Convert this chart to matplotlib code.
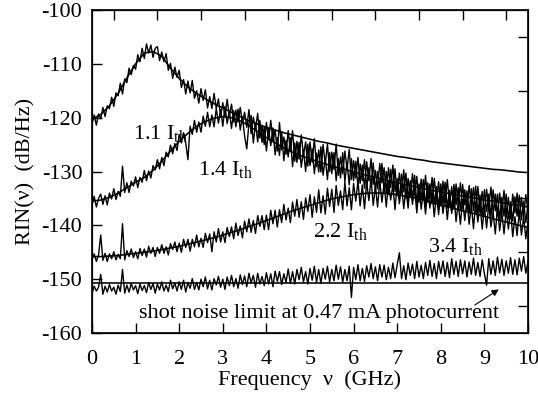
import numpy as np
import matplotlib
matplotlib.use('Agg')
import matplotlib.pyplot as plt

plt.rcParams['font.family'] = ['Liberation Serif', 'DejaVu Serif']
plt.rcParams['mathtext.fontset'] = 'custom'
plt.rcParams['mathtext.rm'] = 'Liberation Serif'
plt.rcParams['mathtext.it'] = 'Liberation Serif:italic'
plt.rcParams['axes.unicode_minus'] = False

# ---------------- data ----------------
freq = np.round(np.arange(201) * 0.05, 2)          # GHz, measured sample grid
freq_theory = np.round(np.arange(51) * 0.2, 1)     # GHz, theory sample grid

meas_11 = [
    -121.2, -119.5, -121.4, -119.3, -120.2, -118.1, -119.8, -117.8, -118.3, -116.2,
    -117.9, -115.4, -115.9, -113.6, -115.6, -112.8, -113.5, -110.8, -112.0, -110.3,
    -111.0,
    -108.3, -109.6, -107.1, -109.0, -106.3, -108.0, -106.5, -108.8, -107.1, -106.8,
    -109.4, -107.8, -109.6, -108.1, -111.2, -109.9, -112.7, -110.6, -112.5, -111.2,
    -114.4, -112.9, -115.6, -113.2, -115.4, -113.1, -116.4, -115.0, -117.3, -114.6,
    -116.8, -114.8, -118.2, -116.1, -118.3, -115.5, -118.3, -116.5, -119.8, -117.2,
    -119.8, -116.6, -119.7, -117.5, -120.8, -118.6, -120.8, -118.1, -121.0, -119.0,
    -121.8, -118.5, -123.0, -119.9, -122.1, -119.2, -123.8, -121.4, -125.0, -120.9,
    -124.1, -120.5, -124.3, -122.2, -126.2, -120.9, -126.0, -123.6, -126.8, -122.4,
    -126.3, -122.4, -128.1, -124.4, -127.7, -123.2, -127.0, -124.5, -129.0, -124.5,
    -128.3, -123.9, -129.1, -126.0, -130.1, -125.0, -128.6, -124.9, -130.0, -126.4,
    -129.6, -124.9, -130.7, -127.3, -130.4, -126.2, -129.5, -125.9, -131.5, -128.0,
    -131.2, -127.4, -132.2, -128.8, -133.1, -128.2, -131.7, -127.6, -132.4, -129.8,
    -133.2, -128.5, -132.1, -129.3, -133.9, -129.3, -133.0, -128.8, -133.7, -131.3,
    -135.1, -130.5, -133.8, -130.3, -135.3, -131.7, -135.0, -130.7, -135.9, -132.3,
    -135.0, -131.5, -136.5, -132.1, -135.1, -131.1, -136.1, -132.8, -136.7, -132.3,
    -136.0, -132.0, -136.8, -133.5, -137.3, -132.4, -136.2, -133.0, -137.3, -132.4,
    -136.2, -133.6, -137.8, -133.2, -137.3, -132.7, -137.7, -134.4, -138.4, -133.4,
    -137.4, -134.2, -138.4, -133.4, -137.3, -134.2, -139.0, -134.8, -138.3, -134.2,
    -138.8, -135.6, -139.2, -134.7, -138.3, -134.4, -139.0, -135.5, -139.5, -136.1,
]

meas_14 = [
    -136.3, -134.6, -136.6, -135.0, -134.2, -136.1, -134.5, -136.2, -134.0, -135.1,
    -133.2, -135.2, -133.7, -134.6, -129.0, -133.9, -132.1, -133.9, -131.8, -132.7,
    -131.0, -133.0, -131.1, -132.0, -129.8, -131.7, -129.9, -131.2, -128.9, -129.7,
    -127.8, -129.5, -127.4, -128.9, -126.4, -127.3, -125.1, -126.7, -124.8, -126.1,
    -123.1, -124.7, -122.8, -124.7, -127.8, -121.6, -123.1, -120.5, -122.7, -120.8,
    -122.7, -119.7, -121.6, -119.0, -121.7, -119.5, -121.7, -118.3, -121.0, -118.5,
    -121.6, -117.9, -121.1, -118.8, -122.0, -118.7, -121.7, -118.4, -122.3, -119.8,
    -123.4, -125.8, -121.0, -119.6, -124.7, -121.0, -124.5, -120.5, -124.6, -121.7,
    -126.2, -122.0, -125.2, -121.9, -126.9, -123.7, -127.0, -122.6, -128.0, -124.2,
    -127.3, -123.7, -129.1, -124.7, -128.3, -124.6, -129.2, -126.0, -130.0, -124.9,
    -128.9, -125.8, -130.4, -126.6, -130.1, -125.4, -130.7, -127.5, -131.5, -126.5,
    -130.4, -126.5, -131.7, -127.6, -131.2, -126.5, -131.9, -128.3, -132.5, -127.6,
    -131.7, -128.1, -133.0, -128.6, -131.7, -127.8, -133.1, -129.3, -132.9, -128.4,
    -133.6, -130.0, -133.0, -128.5, -133.7, -130.0, -134.3, -129.6, -133.2, -129.5,
    -134.5, -130.3, -134.1, -129.7, -135.0, -131.3, -134.8, -130.4, -134.3, -130.9,
    -135.7, -131.4, -135.1, -130.7, -135.7, -132.3, -136.0, -131.3, -135.3, -131.9,
    -136.4, -131.8, -135.4, -131.5, -136.3, -132.8, -137.0, -132.3, -136.1, -132.1,
    -136.9, -133.4, -137.2, -132.6, -136.4, -133.0, -137.6, -132.8, -137.0, -133.7,
    -137.7, -133.3, -136.7, -132.9, -137.7, -134.2, -138.2, -134.0, -137.7, -133.5,
    -138.1, -134.8, -138.7, -134.2, -137.7, -134.0, -138.7, -134.8, -138.3, -134.3,
    -137.6,
]

meas_22 = [
    -146.4, -145.3, -146.7, -145.5, -141.8, -146.5, -145.2, -146.7, -145.3, -146.2,
    -144.9, -146.4, -145.4, -146.2, -139.7, -146.4, -144.7, -145.8, -144.4, -146.0,
    -144.9, -146.2, -144.3, -145.6, -144.4, -145.9, -143.9, -145.2, -144.1, -145.8,
    -144.1, -145.2, -143.6, -145.2, -144.0, -145.5, -143.4, -144.5, -143.1, -144.9,
    -143.3, -145.0, -142.6, -144.1, -142.6, -144.8, -142.6, -144.0, -141.8, -144.0,
    -142.4, -144.1, -141.5, -143.2, -141.6, -144.9, -141.2, -143.1, -140.6, -143.1,
    -141.2, -143.2, -140.4, -142.1, -140.3, -142.5, -139.6, -141.9, -140.1, -142.3,
    -139.2, -141.2, -138.8, -141.3, -139.1, -141.5, -138.2, -140.2, -138.2, -140.8,
    -138.1, -140.8, -137.2, -139.7, -137.2, -140.3, -137.1, -139.5, -136.1, -139.0,
    -136.8, -139.5, -135.7, -138.3, -135.2, -138.5, -135.6, -138.9, -134.9, -137.4,
    -134.3, -138.5, -134.7, -137.6, -133.4, -137.7, -134.5, -137.9, -133.1, -136.5,
    -133.3, -137.6, -132.6, -136.3, -133.6, -137.1, -132.0, -136.4, -133.0, -137.1,
    -132.2, -135.5, -131.7, -136.4, -132.5, -136.9, -132.0, -135.4, -131.3, -136.3,
    -132.7, -136.6, -131.8, -135.7, -132.2, -136.6, -131.7, -135.3, -132.5, -137.1,
    -132.0, -136.0, -132.5, -136.9, -133.2, -136.8, -132.2, -136.1, -133.1, -137.7,
    -132.9, -137.0, -133.8, -137.9, -133.1, -136.8, -133.7, -138.4, -134.3, -138.0,
    -133.7, -137.8, -134.5, -138.9, -134.4, -137.8, -134.1, -139.3, -135.8, -139.8,
    -135.2, -139.1, -135.1, -139.8, -136.2, -140.6, -135.6, -139.4, -136.1, -140.7,
    -136.5, -140.5, -136.0, -140.3, -137.6, -141.6, -136.6, -141.0, -137.5, -141.6,
    -137.2, -140.7, -137.1, -142.1, -138.4, -141.9, -137.4, -141.8, -138.3, -142.5,
    -139.4,
]

meas_34 = [
    -152.7, -151.3, -152.2, -151.5, -149.1, -152.8, -151.3, -152.4, -151.0, -152.2,
    -151.5, -152.8, -151.1, -152.3, -148.2, -152.6, -151.1, -152.4, -150.8, -152.0,
    -151.2, -152.7, -150.9, -152.1, -151.2, -152.5, -150.6, -151.9, -150.8, -152.6,
    -150.9, -152.0, -150.5, -152.2, -151.1, -152.3, -150.2, -151.8, -150.7, -152.2,
    -150.5, -151.9, -150.2, -152.4, -150.6, -151.7, -149.9, -151.9, -150.6, -152.0,
    -150.0, -151.4, -149.6, -151.8, -150.2, -152.0, -149.9, -151.1, -149.5, -151.5,
    -150.0, -151.9, -149.6, -151.2, -149.3, -151.4, -149.9, -151.7, -149.2, -151.0,
    -149.4, -151.4, -148.9, -150.7, -149.3, -151.5, -148.9, -150.9, -149.5, -151.2,
    -148.8, -150.9, -149.0, -151.4, -148.5, -150.4, -148.6, -151.0, -149.0, -150.6,
    -148.1, -150.8, -148.6, -150.9, -148.2, -150.1, -147.8, -150.5, -148.6, -150.9,
    -148.0, -150.2, -147.6, -150.6, -148.2, -150.8, -148.0, -150.0, -147.6, -150.5,
    -148.2, -150.3, -147.4, -150.0, -147.7, -150.6, -148.2, -150.3, -147.6, -153.4,
    -147.8, -150.1, -147.3, -150.3, -148.0, -150.4, -147.5, -149.6, -147.1, -149.9,
    -147.7, -150.3, -147.3, -149.6, -147.4, -150.1, -147.8, -149.9, -147.0, -149.7,
    -147.3, -145.1, -149.9, -147.5, -150.1, -147.0, -149.3, -147.2, -149.9, -146.7,
    -149.6, -147.4, -149.9, -146.9, -149.3, -146.5, -149.5, -147.1, -149.9, -146.7,
    -149.0, -146.6, -149.5, -146.9, -149.7, -146.2, -149.1, -146.7, -149.5, -146.4,
    -149.0, -146.6, -149.6, -146.8, -149.1, -146.1, -149.3, -146.9, -149.5, -146.4,
    -149.0, -151.1, -146.2, -149.1, -146.6, -149.3, -145.9, -148.8, -146.3, -149.3,
    -146.6, -148.9, -146.0, -149.1, -146.4, -149.2, -146.1, -148.5, -145.8, -148.9,
    -146.7,
]

theory_11 = [
    -120.3, -119.4, -117.8, -115.5, -112.6, -110.0, -108.0, -107.7, -108.6, -110.8,
    -112.7, -114.3, -115.5, -116.5, -117.4, -118.2, -119.0, -119.8, -120.6, -121.2,
    -121.8, -122.3, -122.8, -123.2, -123.6, -124.0, -124.4, -124.7, -125.1, -125.4,
    -125.7, -126.0, -126.3, -126.6, -126.9, -127.2, -127.4, -127.7, -127.9, -128.2,
    -128.4, -128.6, -128.8, -129.0, -129.2, -129.4, -129.6, -129.7, -129.9, -130.1,
    -130.2,
]
theory_14 = [
    -135.5, -135.3, -134.8, -134.0, -133.0, -132.0, -131.1, -129.8, -128.1, -126.2,
    -124.4, -122.9, -121.6, -120.7, -120.1, -119.8, -120.0, -120.6, -121.5, -122.6,
    -123.7, -124.7, -125.6, -126.4, -127.1, -127.7, -128.2, -128.7, -129.2, -129.6,
    -130.1, -130.5, -130.9, -131.3, -131.7, -132.1, -132.5, -132.8, -133.2, -133.5,
    -133.8, -134.1, -134.4, -134.7, -135.0, -135.3, -135.5, -135.8, -136.1, -136.3,
    -136.6,
]
theory_22 = [
    -145.8, -145.8, -145.7, -145.6, -145.4, -145.2, -145.0, -144.8, -144.5, -144.2,
    -143.9, -143.5, -143.1, -142.7, -142.3, -141.8, -141.3, -140.8, -140.2, -139.7,
    -139.1, -138.5, -137.9, -137.3, -136.8, -136.3, -135.8, -135.3, -134.9, -134.6,
    -134.3, -134.1, -134.0, -134.0, -134.1, -134.3, -134.6, -134.9, -135.3, -135.7,
    -136.2, -136.6, -137.1, -137.5, -137.9, -138.3, -138.8, -139.2, -139.6, -140.0,
    -140.4,
]
shot_noise_level = -150.8

x_ticks = [0, 1, 2, 3, 4, 5, 6, 7, 8, 9, 10]
y_ticks = [-160, -150, -140, -130, -120, -110, -100]
top_ticks = [0.5, 1.5, 2.5, 3.5, 4.5, 5.5, 6.5, 7.5, 8.5, 9.5]
right_ticks = [-155, -145, -135, -125, -115, -105]

# ---------------- figure ----------------
fig = plt.figure(figsize=(5.38, 3.94), dpi=100)
ax = fig.add_axes([0.171, 0.1548, 0.8104, 0.8198])

for tr in (meas_11, meas_14, meas_22, meas_34):
    ax.plot(freq, tr, color='black', lw=1.0)
for th in (theory_11, theory_14, theory_22):
    ax.plot(freq_theory, th, color='black', lw=1.15)
ax.axhline(shot_noise_level, color='black', lw=1.15)

ax.set_xlim(0, 10)
ax.set_ylim(-160, -100)
ax.set_xticks(x_ticks)
ax.set_yticks(y_ticks)
fs = 16
ax.tick_params(direction='in', length=7, width=1.0, labelsize=fs)
ax.tick_params(axis='x', pad=12)
ax.tick_params(axis='y', pad=7)
for s in ax.spines.values():
    s.set_linewidth(1.2)

# top and right frame ticks (offset by half a division, as in the original)
axt = ax.twiny()
axt.set_xlim(0, 10)
axt.set_xticks(top_ticks)
axt.tick_params(direction='in', length=7, width=1.0, labeltop=False)
axr = ax.twinx()
axr.set_ylim(-160, -100)
axr.set_yticks(right_ticks)
axr.tick_params(direction='in', length=7, width=1.0, labelright=False)

ax.text(1.56, -122.9, r'1.1 I$_{\rm th}$', ha='center', va='center', fontsize=fs)
ax.text(3.05, -129.7, r'1.4 I$_{\rm th}$', ha='center', va='center', fontsize=fs)
ax.text(5.69, -141.2, r'2.2 I$_{\rm th}$', ha='center', va='center', fontsize=fs)
ax.text(8.33, -144.0, r'3.4 I$_{\rm th}$', ha='center', va='center', fontsize=fs)
ax.text(5.2, -156.3, 'shot noise limit at 0.47 mA photocurrent',
        ha='center', va='center', fontsize=fs)
ax.annotate('', xy=(9.33, -151.9), xytext=(8.78, -154.8),
            arrowprops=dict(arrowstyle='-|>', color='black', lw=0.8,
                            mutation_scale=10, shrinkA=0, shrinkB=0))

ax.set_xlabel('Frequency  \u03bd  (GHz)', fontsize=fs, labelpad=1)
ax.set_ylabel('RIN(\u03bd)  (dB/Hz)', fontsize=fs, labelpad=4)

fig.savefig('out.png', dpi=100)
